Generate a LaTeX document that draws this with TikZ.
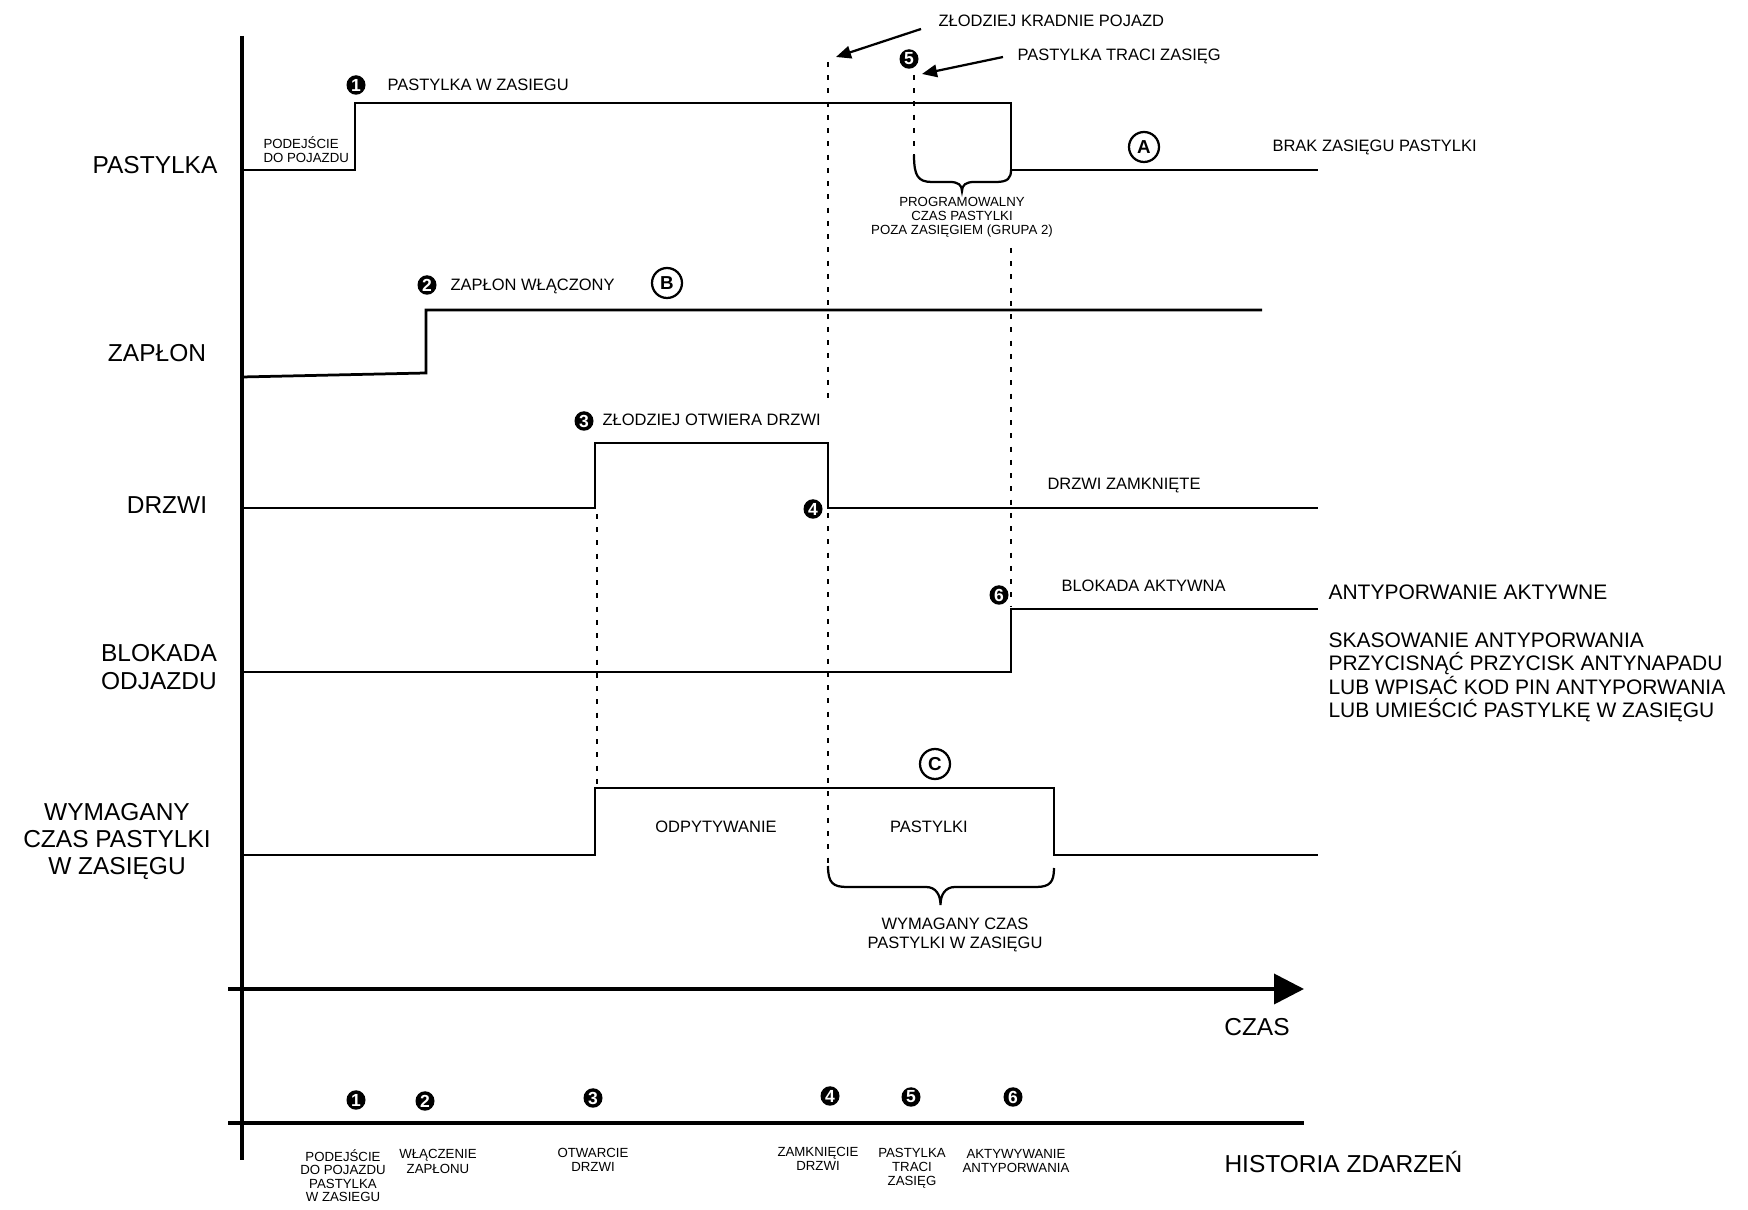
\documentclass[tikz,border=0pt]{standalone}
\usepackage{fontspec}
\setmainfont{Liberation Sans}
\usetikzlibrary{shapes.geometric,arrows.meta}
\begin{document}
\begin{tikzpicture}[x=0.4pt,y=-0.4pt,
  sig/.style={line width=1.1pt, line join=miter},
  dsh/.style={line width=1.1pt, dash pattern=on 2pt off 3.3pt},
  axisline/.style={line width=1.5pt},
  brc/.style={line width=0.9pt},
  ptr/.style={line width=0.9pt, -{Triangle[length=6pt,width=5pt]}},
  num/.style={ellipse, fill=black, text=white, inner sep=0pt, minimum width=7.6pt, minimum height=7.8pt, font=\fontsize{7}{7}\selectfont\bfseries},
  circ/.style={circle, draw, line width=0.9pt, minimum size=12pt, inner sep=0pt, font=\fontsize{7.5}{8}\selectfont\bfseries},
  txt/.style={inner sep=0pt, align=center},
  lab/.style={txt, font=\fontsize{9.8}{10.8}\selectfont},
  med/.style={txt, font=\fontsize{6.6}{7.6}\selectfont},
  sm/.style={txt, font=\fontsize{5.3}{5.6}\selectfont},
  rt/.style={inner sep=0pt, align=left, font=\fontsize{8.4}{9.4}\selectfont}]
\fill[white] (0,0) rectangle (1748,1210);
\useasboundingbox (0,0) rectangle (1748,1210);

% axes
\coordinate (vtop) at (242,36); \coordinate (vbot) at (242,1160);
\draw[axisline] (vtop) -- (vbot);
\coordinate (tl) at (228,989); \coordinate (tr) at (1304,989);
\draw[axisline,-{Triangle[length=12pt,width=12pt]}] (tl) -- (tr);
\coordinate (hl) at (228,1123); \coordinate (hr) at (1304,1123);
\draw[line width=1.8pt] (hl) -- (hr);
\node[lab] (czas) at (1257,1027) {CZAS};
\node[lab, anchor=west] (hist) at (1224,1162) {HISTORIA ZDARZEŃ};

% left labels
\node[lab] (lp) at (155,165) {PASTYLKA};
\node[lab] (lz) at (157,353) {ZAPŁON};
\node[lab] (ld) at (167,505) {DRZWI};
\node[lab, font=\fontsize{9.8}{11.2}\selectfont] (lb) at (159,667) {BLOKADA\\ODJAZDU};
\node[lab] (lw) at (117,842) {WYMAGANY\\CZAS PASTYLKI\\W ZASIĘGU};

% signals
\draw[sig] (242,170) -- (355,170) -- (355,103) -- (1011,103) -- (1011,170) -- (1318,170);
\draw[sig] (242,377) -- (426,373) -- (426,310) -- (1262,310);
\draw[sig] (242,508) -- (595,508) -- (595,443) -- (828,443) -- (828,508) -- (1318,508);
\draw[sig] (242,672) -- (1011,672) -- (1011,609) -- (1318,609);
\draw[sig] (242,855) -- (595,855) -- (595,788) -- (1054,788) -- (1054,855) -- (1318,855);

% dashed guides
\draw[dsh] (828,62) -- (828,399);
\draw[dsh] (828,513) -- (828,866);
\draw[dsh] (914,75) -- (914,155);
\draw[dsh] (1011,248) -- (1011,607);
\draw[dsh] (597,514) -- (597,786);

% braces
\draw[brc] (914,155) .. controls (914,176) and (918,182) .. (932,182) -- (950,182)
  .. controls (958,182) and (962,185) .. (962,191)
  .. controls (962,185) and (966,182) .. (974,182) -- (996,182)
  .. controls (1008,182) and (1011,178) .. (1011,170);
\draw[brc] (828,866) .. controls (828,883) and (833,887) .. (847,887) -- (926,887)
  .. controls (936,887) and (940.5,895) .. (940.5,905)
  .. controls (940.5,895) and (945,887) .. (955,887) -- (1036,887)
  .. controls (1050,887) and (1054,882) .. (1054,868);

% PASTYLKA texts
\node[sm, align=left, anchor=west] (pod) at (263,150) {PODEJŚCIE\\DO POJAZDU};
\node[num] (n1a) at (356,85) {1};
\node[med, anchor=west] (pwz) at (387,85) {PASTYLKA W ZASIEGU};
\node[med, anchor=west] (zk) at (938,21) {ZŁODZIEJ KRADNIE POJAZD};
\coordinate (zka) at (921,29); \coordinate (zkb) at (836,57);
\draw[ptr] (zka) -- (zkb);
\node[med, anchor=west] (ptz) at (1017,56) {PASTYLKA TRACI ZASIĘG};
\coordinate (pta) at (1003,57); \coordinate (ptb) at (922,74);
\draw[ptr] (pta) -- (ptb);
\node[num] (n5a) at (909,59) {5};
\node[sm] (prog) at (962,217) {PROGRAMOWALNY\\CZAS PASTYLKI\\POZA ZASIĘGIEM (GRUPA 2)};
\node[circ] (ca) at (1144,147) {A};
\node[med, anchor=west] (brak) at (1272,147) {BRAK ZASIĘGU PASTYLKI};

% ZAPLON texts
\node[num] (n2a) at (427,285) {2};
\node[med, anchor=west] (zw) at (450,286) {ZAPŁON WŁĄCZONY};
\node[circ] (cb) at (667,283) {B};

% DRZWI texts
\node[num] (n3a) at (584,421) {3};
\node[med, anchor=west] (zod) at (602,420) {ZŁODZIEJ OTWIERA DRZWI};
\node[num] (n4a) at (813,509) {4};
\node[med, anchor=west] (dz) at (1047,486) {DRZWI ZAMKNIĘTE};

% BLOKADA texts
\node[num] (n6a) at (999,595) {6};
\node[med, anchor=west] (ba) at (1061,586) {BLOKADA AKTYWNA};
\node[rt, anchor=west] (aa) at (1328,592) {ANTYPORWANIE AKTYWNE};
\node[rt, anchor=north west, font=\fontsize{8.4}{9.4}\selectfont] (sk) at (1328,632) {SKASOWANIE ANTYPORWANIA\\PRZYCISNĄĆ PRZYCISK ANTYNAPADU\\LUB WPISAĆ KOD PIN ANTYPORWANIA\\LUB UMIEŚCIĆ PASTYLKĘ W ZASIĘGU};

% WYMAGANY texts
\node[circ] (cc) at (935,764) {C};
\node[med] (odp) at (716,827) {ODPYTYWANIE};
\node[med] (pst) at (929,827) {PASTYLKI};
\node[med] (wcz) at (955,935) {WYMAGANY CZAS\\PASTYLKI W ZASIĘGU};

% history
\node[num] (h1) at (356,1100) {1};
\node[num] (h2) at (425,1101) {2};
\node[num] (h3) at (593,1098) {3};
\node[num] (h4) at (830,1096) {4};
\node[num] (h5) at (911,1097) {5};
\node[num] (h6) at (1013,1097) {6};
\node[sm, anchor=north, font=\fontsize{5.3}{5.4}\selectfont] (e1) at (343,1149) {PODEJŚCIE\\DO POJAZDU\\PASTYLKA\\W ZASIEGU};
\node[sm, anchor=north, font=\fontsize{5.3}{5.8}\selectfont] (e2) at (438,1149) {WŁĄCZENIE\\ZAPŁONU};
\node[sm, anchor=north] (e3) at (593,1148) {OTWARCIE\\DRZWI};
\node[sm, anchor=north] (e4) at (818,1147) {ZAMKNIĘCIE\\DRZWI};
\node[sm, anchor=north] (e5) at (912,1148) {PASTYLKA\\TRACI\\ZASIĘG};
\node[sm, anchor=north] (e6) at (1016,1149) {AKTYWYWANIE\\ANTYPORWANIA};
\end{tikzpicture}
\end{document}
